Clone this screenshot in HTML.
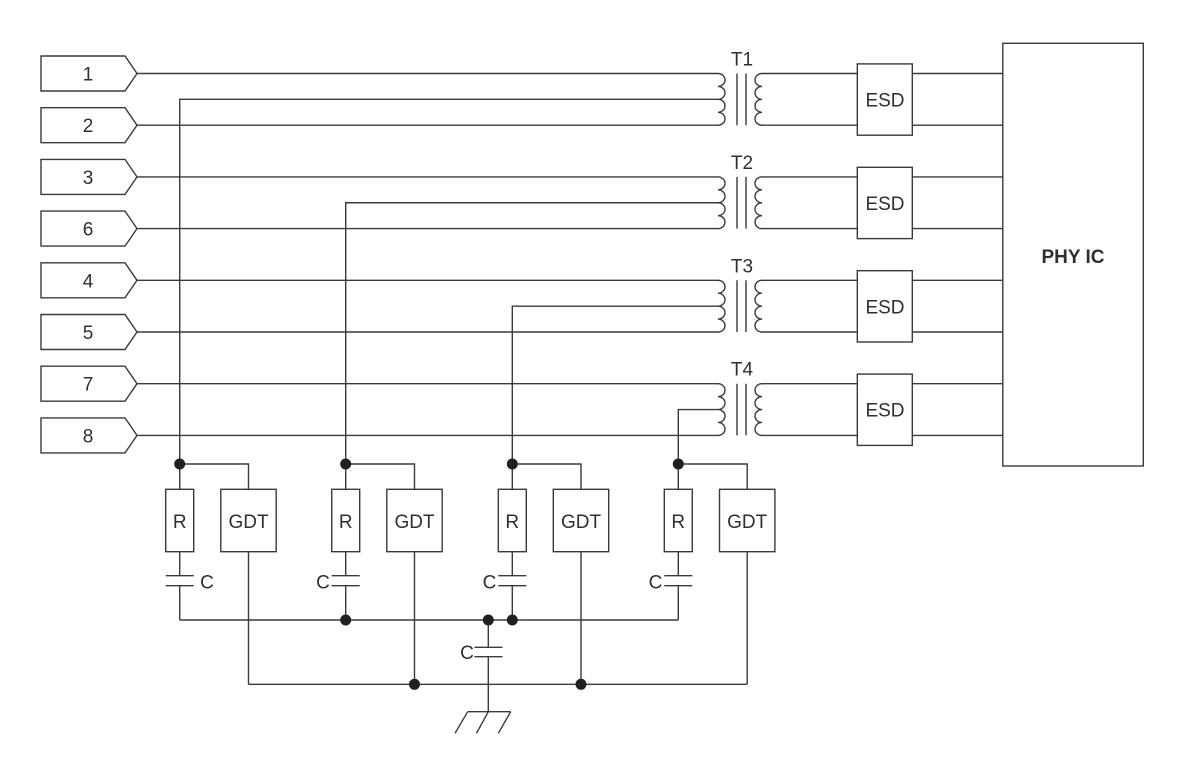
<!DOCTYPE html>
<html><head><meta charset="utf-8"><style>
html,body{margin:0;padding:0;background:#fff;}
svg{display:block;}
text{font-family:"Liberation Sans","Noto Sans CJK SC",sans-serif;fill:#2f2f2f;}
</style></head><body>
<svg width="1200" height="769" viewBox="0 0 1200 769" xmlns="http://www.w3.org/2000/svg">
<g fill="none" stroke="#3a3a3a" stroke-width="1.4">
<!-- connectors -->
<path d="M41,56 H125 L137,73.5 L125,91 H41 Z"/>
<path d="M41,107.7 H125 L137,125.2 L125,142.7 H41 Z"/>
<path d="M41,159.4 H125 L137,176.9 L125,194.4 H41 Z"/>
<path d="M41,211.1 H125 L137,228.6 L125,246.1 H41 Z"/>
<path d="M41,262.8 H125 L137,280.3 L125,297.8 H41 Z"/>
<path d="M41,314.5 H125 L137,332 L125,349.5 H41 Z"/>
<path d="M41,366.2 H125 L137,383.7 L125,401.2 H41 Z"/>
<path d="M41,417.9 H125 L137,435.4 L125,452.9 H41 Z"/>

<!-- primaries -->
<path d="M137,73.5 H718 A7,6.46 0 0 1 718,86.43 A7,6.46 0 0 1 718,99.35 A7,6.46 0 0 1 718,112.28 A7,6.46 0 0 1 718,125.2 H137"/>
<path d="M137,176.9 H718 A7,6.46 0 0 1 718,189.83 A7,6.46 0 0 1 718,202.75 A7,6.46 0 0 1 718,215.68 A7,6.46 0 0 1 718,228.6 H137"/>
<path d="M137,280.3 H718 A7,6.46 0 0 1 718,293.23 A7,6.46 0 0 1 718,306.15 A7,6.46 0 0 1 718,319.08 A7,6.46 0 0 1 718,332 H137"/>
<path d="M137,383.7 H718 A7,6.46 0 0 1 718,396.63 A7,6.46 0 0 1 718,409.55 A7,6.46 0 0 1 718,422.48 A7,6.46 0 0 1 718,435.4 H137"/>

<!-- cores -->
<path d="M737,73.5 V125.2 M746,73.5 V125.2"/>
<path d="M737,176.9 V228.6 M746,176.9 V228.6"/>
<path d="M737,280.3 V332 M746,280.3 V332"/>
<path d="M737,383.7 V435.4 M746,383.7 V435.4"/>

<!-- secondaries -->
<path d="M857.3,73.5 H762 A7,6.46 0 0 0 762,86.43 A7,6.46 0 0 0 762,99.35 A7,6.46 0 0 0 762,112.28 A7,6.46 0 0 0 762,125.2 H857.3"/>
<path d="M857.3,176.9 H762 A7,6.46 0 0 0 762,189.83 A7,6.46 0 0 0 762,202.75 A7,6.46 0 0 0 762,215.68 A7,6.46 0 0 0 762,228.6 H857.3"/>
<path d="M857.3,280.3 H762 A7,6.46 0 0 0 762,293.23 A7,6.46 0 0 0 762,306.15 A7,6.46 0 0 0 762,319.08 A7,6.46 0 0 0 762,332 H857.3"/>
<path d="M857.3,383.7 H762 A7,6.46 0 0 0 762,396.63 A7,6.46 0 0 0 762,409.55 A7,6.46 0 0 0 762,422.48 A7,6.46 0 0 0 762,435.4 H857.3"/>

<!-- ESD boxes -->
<rect x="857.3" y="63.9" width="55" height="71.3"/>
<rect x="857.3" y="167.3" width="55" height="71.3"/>
<rect x="857.3" y="270.7" width="55" height="71.3"/>
<rect x="857.3" y="374.1" width="55" height="71.3"/>

<!-- ESD to PHY -->
<path d="M912.3,73.5 H1002.8 M912.3,125.2 H1002.8 M912.3,176.9 H1002.8 M912.3,228.6 H1002.8 M912.3,280.3 H1002.8 M912.3,332 H1002.8 M912.3,383.7 H1002.8 M912.3,435.4 H1002.8"/>
<rect x="1002.8" y="43.3" width="140.5" height="422.7"/>

<!-- center taps -->
<path d="M718,99.35 H179.7 V489.3"/>
<path d="M718,202.75 H345.7 V489.3"/>
<path d="M718,306.15 H512.3 V489.3"/>
<path d="M718,409.55 H678.3 V489.3"/>

<!-- unit 0 -->
<rect x="165.7" y="489.3" width="28" height="62.4"/>
<path d="M179.7,551.7 V575.7 M165.7,575.7 H193.7 M165.7,585.7 H193.7 M179.7,585.7 V620"/>
<path d="M179.7,464 H248.5 V489.3"/>
<rect x="220.8" y="489.3" width="55.4" height="62.4"/>
<path d="M248.5,551.7 V684.3"/>
<!-- unit 1 -->
<rect x="331.7" y="489.3" width="28" height="62.4"/>
<path d="M345.7,551.7 V575.7 M331.7,575.7 H359.7 M331.7,585.7 H359.7 M345.7,585.7 V620"/>
<path d="M345.7,464 H414.5 V489.3"/>
<rect x="386.8" y="489.3" width="55.4" height="62.4"/>
<path d="M414.5,551.7 V684.3"/>
<!-- unit 2 -->
<rect x="498.3" y="489.3" width="28" height="62.4"/>
<path d="M512.3,551.7 V575.7 M498.3,575.7 H526.3 M498.3,585.7 H526.3 M512.3,585.7 V620"/>
<path d="M512.3,464 H581 V489.3"/>
<rect x="553.3" y="489.3" width="55.4" height="62.4"/>
<path d="M581,551.7 V684.3"/>
<!-- unit 3 -->
<rect x="664.3" y="489.3" width="28" height="62.4"/>
<path d="M678.3,551.7 V575.7 M664.3,575.7 H692.3 M664.3,585.7 H692.3 M678.3,585.7 V620"/>
<path d="M678.3,464 H747.2 V489.3"/>
<rect x="719.5" y="489.3" width="55.4" height="62.4"/>
<path d="M747.2,551.7 V684.3"/>

<!-- buses -->
<path d="M179.7,620 H678.3"/>
<path d="M248.5,684.3 H747.2"/>

<!-- center cap + ground -->
<path d="M488.3,620 V647.3 M474.5,647.3 H502.5 M474.5,656.7 H502.5 M488.3,656.7 V711.7"/>
<path d="M467.7,711.7 H510.7 M467.7,711.7 L455,733.3 M488.3,711.7 L476.5,733.3 M510.7,711.7 L498.3,733.3"/>
</g>

<!-- dots -->
<g fill="#231f20">
<circle cx="179.7" cy="464" r="5.5"/>
<circle cx="345.7" cy="464" r="5.5"/>
<circle cx="512.3" cy="464" r="5.5"/>
<circle cx="678.3" cy="464" r="5.5"/>
<circle cx="345.7" cy="620" r="5.5"/>
<circle cx="488.3" cy="620" r="5.5"/>
<circle cx="512.3" cy="620" r="5.5"/>
<circle cx="414.5" cy="684.3" r="5.5"/>
<circle cx="581" cy="684.3" r="5.5"/>
</g>

<!-- labels -->
<g font-size="19" text-anchor="middle">
<text x="88" y="80.5">1</text>
<text x="88" y="132.2">2</text>
<text x="88" y="183.9">3</text>
<text x="88" y="235.6">6</text>
<text x="88" y="287.3">4</text>
<text x="88" y="339">5</text>
<text x="88" y="390.7">7</text>
<text x="88" y="442.4">8</text>

<text x="742" y="65.5">T1</text>
<text x="742" y="168.9">T2</text>
<text x="742" y="272.3">T3</text>
<text x="742" y="375.7">T4</text>

<text x="885" y="106.5">ESD</text>
<text x="885" y="209.9">ESD</text>
<text x="885" y="313.3">ESD</text>
<text x="885" y="416.7">ESD</text>

<text x="179.7" y="528">R</text>
<text x="345.7" y="528">R</text>
<text x="512.3" y="528">R</text>
<text x="678.3" y="528">R</text>
<text x="248.5" y="528">GDT</text>
<text x="414.5" y="528">GDT</text>
<text x="581" y="528">GDT</text>
<text x="747.2" y="528">GDT</text>

<text x="207" y="588.5">C</text>
<text x="323" y="588.5">C</text>
<text x="489.5" y="588.5">C</text>
<text x="655.5" y="588.5">C</text>
<text x="467" y="659">C</text>

<text x="1073" y="263" font-weight="bold">PHY IC</text>
</g>
</svg>
</body></html>
